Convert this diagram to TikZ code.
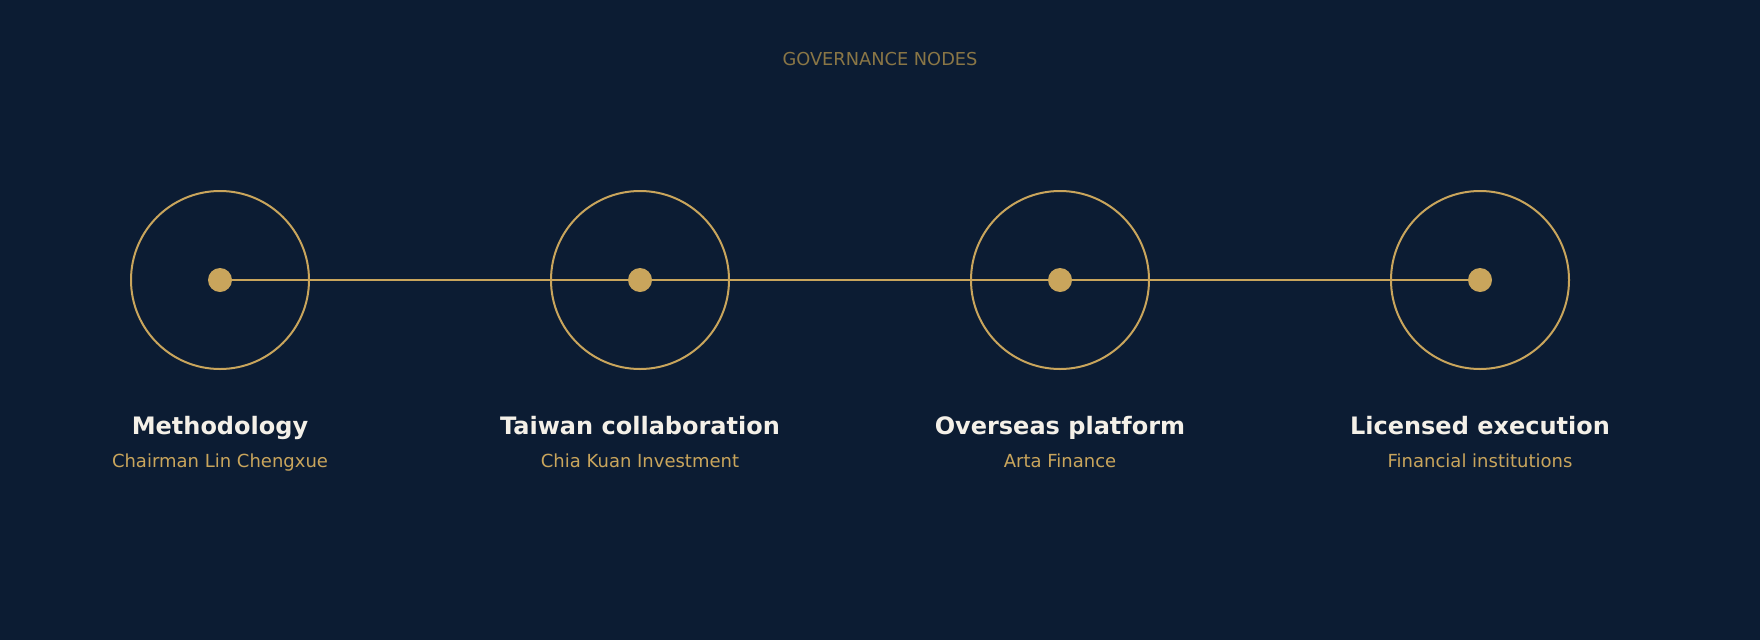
\documentclass[tikz,border=0pt]{standalone}
\usepackage{fontspec}
\setmainfont{DejaVu Sans}
\definecolor{navy}{HTML}{0C1C33}
\definecolor{gold}{HTML}{C9A55C}
\definecolor{dimgold}{HTML}{8A7646}
\definecolor{ivory}{HTML}{F4F0E8}

\begin{document}
\begin{tikzpicture}[x=1pt,y=-1pt]
    \tikzstyle{ring} = [circle,draw=gold,line width=2pt,minimum size=178pt,inner sep=0pt]
    \tikzstyle{hub} = [circle,fill=gold,minimum size=24pt,inner sep=0pt]
    \tikzstyle{link} = [draw=gold,line width=1.6pt]
    \tikzstyle{heading} = [anchor=base,text=ivory,font=\fontsize{24}{28}\selectfont\bfseries,inner sep=0pt]
    \tikzstyle{owner} = [anchor=base,text=gold,font=\fontsize{18}{21}\selectfont,inner sep=0pt]

    \fill[navy](0,0) rectangle (1760,640);
    \node[anchor=base,text=dimgold,font=\fontsize{17.8}{21}\selectfont,inner sep=0pt]
        (title) at (880,65) {GOVERNANCE NODES};

    \node[ring] (ringA) at (220,280) {};
    \node[ring] (ringB) at (640,280) {};
    \node[ring] (ringC) at (1060,280) {};
    \node[ring] (ringD) at (1480,280) {};
    \node[hub] (hubA) at (ringA.center) {};
    \node[hub] (hubB) at (ringB.center) {};
    \node[hub] (hubC) at (ringC.center) {};
    \node[hub] (hubD) at (ringD.center) {};
    \draw[link](hubA)--(hubB);
    \draw[link](hubB)--(hubC);
    \draw[link](hubC)--(hubD);

    % names and owners under each ring
    \node[heading] (nameA) at (220,434) {Methodology};
    \node[heading] (nameB) at (640,434) {Taiwan collaboration};
    \node[heading] (nameC) at (1060,434) {Overseas platform};
    \node[heading] (nameD) at (1480,434) {Licensed execution};
    \node[owner] (ownerA) at (220,467.7) {Chairman Lin Chengxue};
    \node[owner] (ownerB) at (640,467.7) {Chia Kuan Investment};
    \node[owner] (ownerC) at (1060,467.7) {Arta Finance};
    \node[owner] (ownerD) at (1480,467.7) {Financial institutions};
\end{tikzpicture}
\end{document}
